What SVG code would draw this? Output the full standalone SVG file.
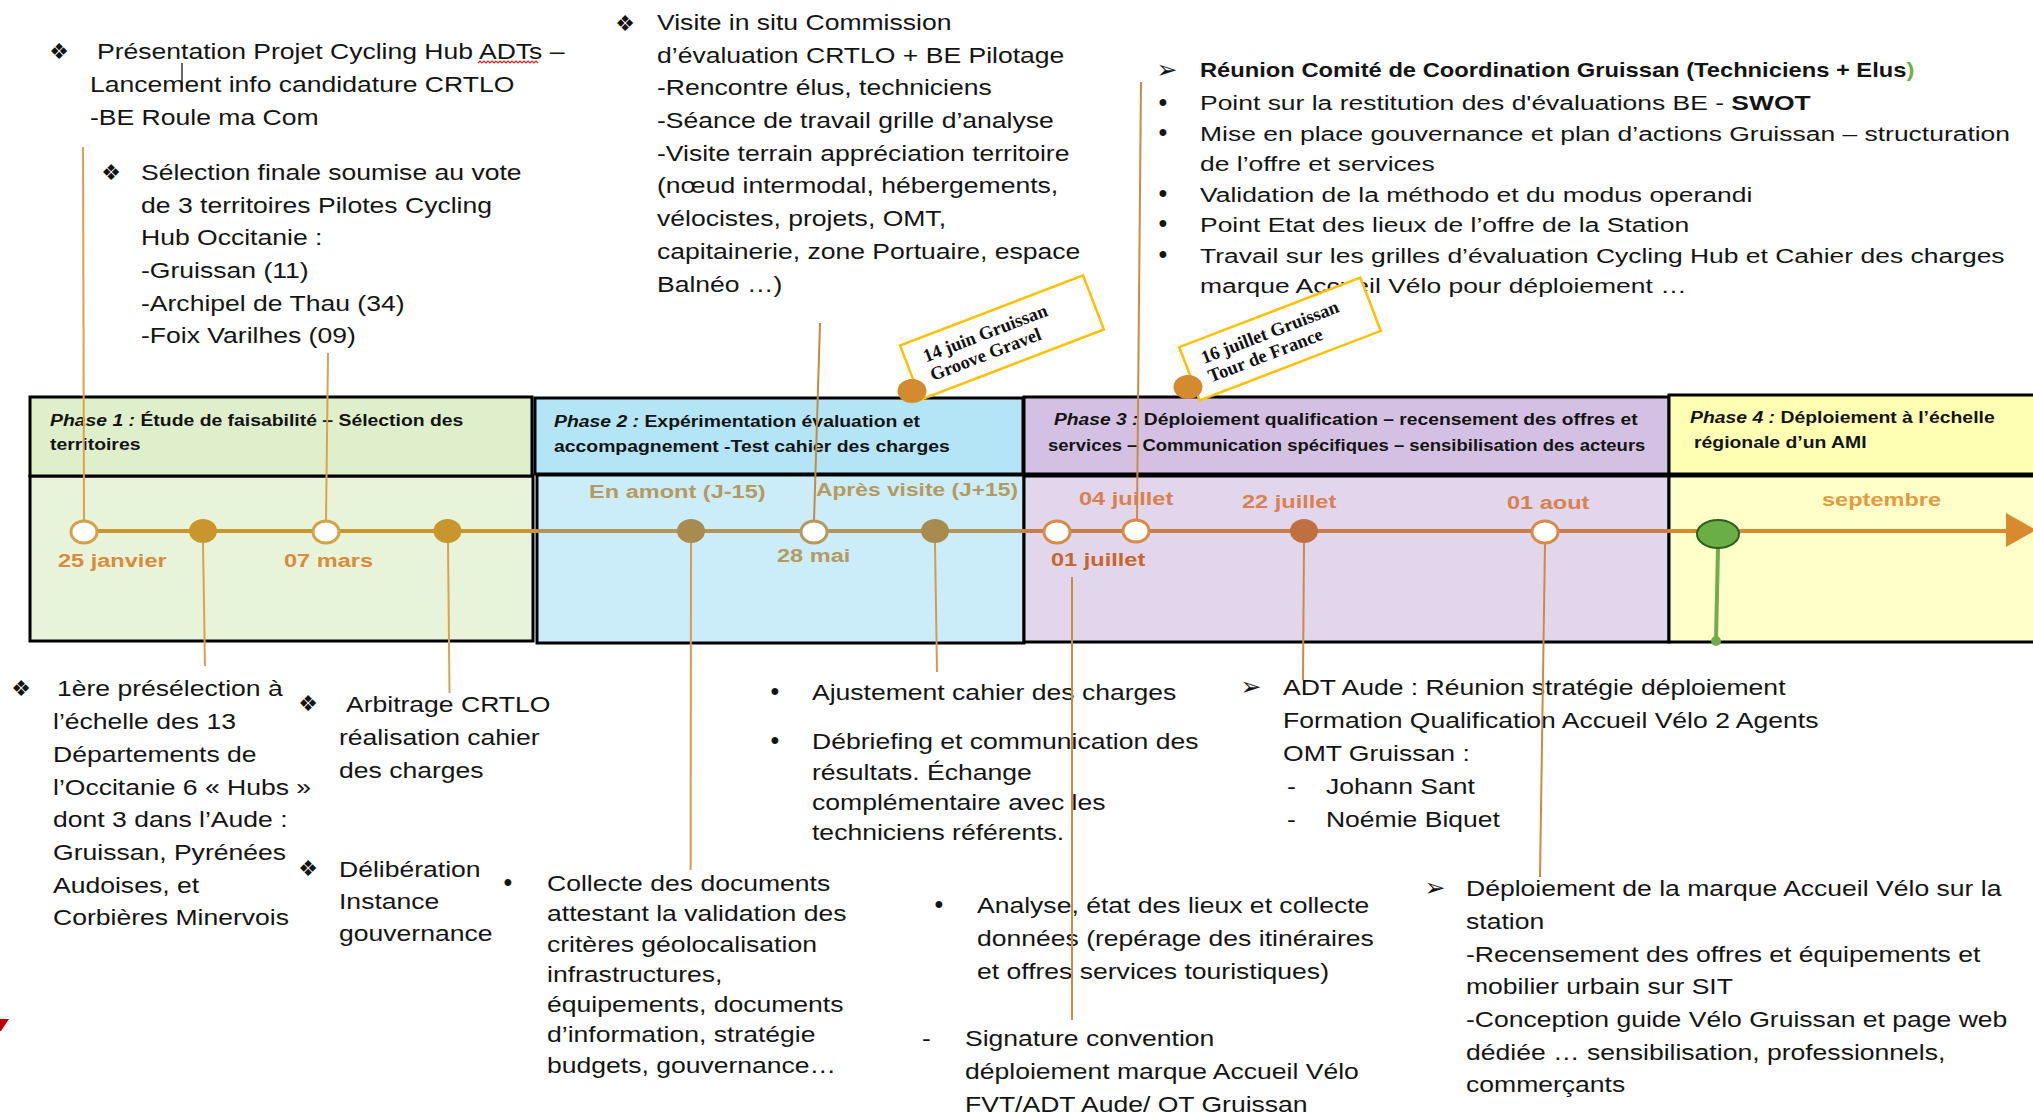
<svg xmlns="http://www.w3.org/2000/svg" width="2033" height="1114" viewBox="0 0 2033 1114">
<style>
.t{font-family:"Liberation Sans",Arial,sans-serif;font-size:22.5px;fill:#141414}
.t2{font-family:"Liberation Sans",Arial,sans-serif;font-size:21px;fill:#141414}
.bb{font-weight:bold}
.h{font-family:"Liberation Sans",Arial,sans-serif;font-size:17px;font-weight:bold;fill:#141414}
.hi{font-style:italic}
.d{font-family:"Liberation Sans",Arial,sans-serif;font-size:19px;font-weight:bold}
.sym{font-family:"DejaVu Sans",sans-serif;font-size:22px;fill:#141414;text-anchor:middle}
.arr{font-family:"DejaVu Sans",sans-serif;font-size:25px;fill:#141414;text-anchor:middle}
.dot{font-family:"Liberation Sans",Arial,sans-serif;font-size:25px;fill:#141414;text-anchor:middle}
.s{font-family:"Liberation Serif","Times New Roman",serif;font-size:18.5px;font-weight:bold;fill:#111}
.box{stroke:#000;stroke-width:3}
.c{fill:none;stroke-width:2}
.ho{fill:#fff;stroke-width:3}
.tag{fill:#fff;stroke:#FFC000;stroke-width:2.5}
</style>
<rect x="0" y="0" width="2033" height="1114" fill="#fff"/>

<!-- Phases -->
<g id="phase1">
<rect class="box" x="30" y="476" width="503" height="165" fill="#E8F4DA"/>
<rect class="box" x="30" y="397" width="502" height="79" fill="#DFEFCC"/>
<g transform="translate(50 0) scale(1.14 1)"><text class="h" x="0" y="426"><tspan class="hi">Phase 1 :</tspan> Étude de faisabilité – Sélection des</text><text class="h" x="0" y="450">territoires</text></g>
</g>
<g id="phase2">
<rect class="box" x="537" y="475" width="487" height="168" fill="#CBEDF9"/>
<rect class="box" x="535" y="398" width="488" height="76" fill="#B3E5F6"/>
<g transform="translate(554 0) scale(1.14 1)"><text class="h" x="0" y="427"><tspan class="hi">Phase 2 :</tspan> Expérimentation évaluation et</text><text class="h" x="0" y="452">accompagnement -Test cahier des charges</text></g>
</g>
<g id="phase3">
<rect class="box" x="1024" y="476" width="645" height="166" fill="#E2D6EC"/>
<rect class="box" x="1024" y="397" width="645" height="77" fill="#D4C0E2"/>
<g transform="translate(1048 0) scale(1.14 1)"><text class="h" x="5.3" y="425" textLength="512" lengthAdjust="spacingAndGlyphs"><tspan class="hi">Phase 3 :</tspan> Déploiement qualification – recensement des offres et</text><text class="h" x="0" y="451" textLength="524" lengthAdjust="spacingAndGlyphs">services – Communication spécifiques – sensibilisation des acteurs</text></g>
</g>
<g id="phase4">
<rect class="box" x="1669" y="476" width="380" height="166" fill="#FFFFC9"/>
<rect class="box" x="1669" y="395" width="380" height="79" fill="#FFFFB3"/>
<g transform="translate(1690 0) scale(1.14 1)"><text class="h" x="0" y="423"><tspan class="hi">Phase 4 :</tspan> Déploiement à l’échelle</text><text class="h" x="3.5" y="448">régionale d’un AMI</text></g>
</g>

<!-- Notes -->
<g id="note-presentation">
<text class="sym" x="59" y="58.5">❖</text>
<g transform="translate(90 0) scale(1.18 1)">
<text class="t" x="5.9" y="59">Présentation Projet Cycling Hub ADTs –</text>
<text class="t" x="0" y="92">Lancement info candidature CRTLO</text>
<text class="t" x="0" y="125">-BE Roule ma Com</text>
</g>
<path d="M478 63 l2 -2 l2 2 l2 -2 l2 2 l2 -2 l2 2 l2 -2 l2 2 l2 -2 l2 2 l2 -2 l2 2 l2 -2 l2 2 l2 -2 l2 2 l2 -2 l2 2 l2 -2 l2 2 l2 -2 l2 2 l2 -2 l2 2 l2 -2 l2 2 l2 -2 l2 2 l2 -2 l2 2" fill="none" stroke="#E02020" stroke-width="1.2"/>
<line x1="182" y1="63" x2="182" y2="90" stroke="#000" stroke-width="1.2"/>
</g>
<g id="note-selection">
<text class="sym" x="111" y="179.5">❖</text>
<g transform="translate(141 0) scale(1.18 1)">
<text class="t" x="0" y="180">Sélection finale soumise au vote</text>
<text class="t" x="0" y="212.7">de 3 territoires Pilotes Cycling</text>
<text class="t" x="0" y="245.4">Hub Occitanie :</text>
<text class="t" x="0" y="278">-Gruissan (11)</text>
<text class="t" x="0" y="310.8">-Archipel de Thau (34)</text>
<text class="t" x="0" y="343.5">-Foix Varilhes (09)</text>
</g>
</g>
<g id="note-visite">
<text class="sym" x="625" y="30.5">❖</text>
<g transform="translate(657 0) scale(1.18 1)">
<text class="t" x="0" y="30">Visite in situ Commission</text>
<text class="t" x="0" y="62.7">d’évaluation CRTLO + BE Pilotage</text>
<text class="t" x="0" y="95.4">-Rencontre élus, techniciens</text>
<text class="t" x="0" y="128.1">-Séance de travail grille d’analyse</text>
<text class="t" x="0" y="160.8">-Visite terrain appréciation territoire</text>
<text class="t" x="0" y="193.5">(nœud intermodal, hébergements,</text>
<text class="t" x="0" y="226.2">vélocistes, projets, OMT,</text>
<text class="t" x="0" y="258.9">capitainerie, zone Portuaire, espace</text>
<text class="t" x="0" y="291.6">Balnéo …)</text>
</g>
</g>
<g id="note-reunion">
<text class="arr" x="1167" y="78">➢</text>
<g transform="translate(1200 0) scale(1.13 1)">
<text class="t2 bb" x="0" y="77">Réunion Comité de Coordination Gruissan (Techniciens + Elus<tspan fill="#70AD47">)</tspan></text>
</g>
<text class="dot" x="1163" y="110.5">•</text>
<text class="dot" x="1163" y="141">•</text>
<text class="dot" x="1163" y="201.7">•</text>
<text class="dot" x="1163" y="231.7">•</text>
<text class="dot" x="1163" y="263.3">•</text>
<g transform="translate(1200 0) scale(1.26 1)">
<text class="t2" x="0" y="110.5">Point sur la restitution des d'évaluations BE - <tspan class="bb">SWOT</tspan></text>
<text class="t2" x="0" y="141">Mise en place gouvernance et plan d’actions Gruissan – structuration</text>
<text class="t2" x="0" y="171.5">de l’offre et services</text>
<text class="t2" x="0" y="201.7">Validation de la méthodo et du modus operandi</text>
<text class="t2" x="0" y="231.7">Point Etat des lieux de l’offre de la Station</text>
<text class="t2" x="0" y="263.3">Travail sur les grilles d’évaluation Cycling Hub et Cahier des charges</text>
<text class="t2" x="0" y="293.3">marque Accueil Vélo pour déploiement …</text>
</g>
</g>
<g id="note-preselection">
<text class="sym" x="21" y="695.5">❖</text>
<g transform="translate(53 0) scale(1.18 1)">
<text class="t" x="3.4" y="696.5">1ère présélection à</text>
<text class="t" x="0" y="729.2">l’échelle des 13</text>
<text class="t" x="0" y="761.9">Départements de</text>
<text class="t" x="0" y="794.6">l’Occitanie 6 « Hubs »</text>
<text class="t" x="0" y="827.3">dont 3 dans l’Aude :</text>
<text class="t" x="0" y="860">Gruissan, Pyrénées</text>
<text class="t" x="0" y="892.7">Audoises, et</text>
<text class="t" x="0" y="925.4">Corbières Minervois</text>
</g>
</g>
<g id="note-arbitrage">
<text class="sym" x="308" y="710.5">❖</text>
<g transform="translate(339 0) scale(1.18 1)">
<text class="t" x="5.9" y="712">Arbitrage CRTLO</text>
<text class="t" x="0" y="745">réalisation cahier</text>
<text class="t" x="0" y="778">des charges</text>
</g>
</g>
<g id="note-deliberation">
<text class="sym" x="308" y="875.5">❖</text>
<g transform="translate(339 0) scale(1.18 1)">
<text class="t" x="0" y="877">Délibération</text>
<text class="t" x="0" y="909">Instance</text>
<text class="t" x="0" y="941">gouvernance</text>
</g>
</g>
<g id="note-collecte">
<text class="dot" x="508" y="891">•</text>
<g transform="translate(547 0) scale(1.18 1)">
<text class="t" x="0" y="891">Collecte des documents</text>
<text class="t" x="0" y="921.3">attestant la validation des</text>
<text class="t" x="0" y="951.6">critères géolocalisation</text>
<text class="t" x="0" y="981.9">infrastructures,</text>
<text class="t" x="0" y="1012.2">équipements, documents</text>
<text class="t" x="0" y="1042.5">d’information, stratégie</text>
<text class="t" x="0" y="1072.8">budgets, gouvernance…</text>
</g>
</g>
<g id="note-ajustement">
<text class="dot" x="775" y="700">•</text>
<text class="dot" x="775" y="749">•</text>
<g transform="translate(812 0) scale(1.18 1)">
<text class="t" x="0" y="700">Ajustement cahier des charges</text>
<text class="t" x="0" y="749">Débriefing et communication des</text>
<text class="t" x="0" y="780">résultats. Échange</text>
<text class="t" x="0" y="810">complémentaire avec les</text>
<text class="t" x="0" y="840">techniciens référents.</text>
</g>
</g>
<g id="note-adt">
<text class="arr" x="1251" y="695">➢</text>
<g transform="translate(1283 0) scale(1.18 1)">
<text class="t" x="0" y="695">ADT Aude : Réunion stratégie déploiement</text>
<text class="t" x="0" y="728">Formation Qualification Accueil Vélo 2 Agents</text>
<text class="t" x="0" y="761">OMT Gruissan :</text>
<text class="t" x="3.4" y="794">-</text><text class="t" x="36.4" y="794">Johann Sant</text>
<text class="t" x="3.4" y="827">-</text><text class="t" x="36.4" y="827">Noémie Biquet</text>
</g>
</g>
<g id="note-analyse">
<text class="dot" x="939" y="913">•</text>
<g transform="translate(977 0) scale(1.18 1)">
<text class="t" x="0" y="913">Analyse, état des lieux et collecte</text>
<text class="t" x="0" y="946">données (repérage des itinéraires</text>
<text class="t" x="0" y="979">et offres services touristiques)</text>
</g>
</g>
<g id="note-signature">
<g transform="translate(922 0) scale(1.18 1)"><text class="t" x="0" y="1046">-</text></g>
<g transform="translate(965 0) scale(1.18 1)">
<text class="t" x="0" y="1046">Signature convention</text>
<text class="t" x="0" y="1079">déploiement marque Accueil Vélo</text>
<text class="t" x="0" y="1112">FVT/ADT Aude/ OT Gruissan</text>
</g>
</g>
<g id="note-deploiement">
<text class="arr" x="1435" y="896">➢</text>
<g transform="translate(1466 0) scale(1.18 1)">
<text class="t" x="0" y="896">Déploiement de la marque Accueil Vélo sur la</text>
<text class="t" x="0" y="929">station</text>
<text class="t" x="0" y="962">-Recensement des offres et équipements et</text>
<text class="t" x="0" y="994">mobilier urbain sur SIT</text>
<text class="t" x="0" y="1027">-Conception guide Vélo Gruissan et page web</text>
<text class="t" x="0" y="1060">dédiée … sensibilisation, professionnels,</text>
<text class="t" x="0" y="1092">commerçants</text>
</g>
</g>
<polygon points="0,1019 9,1019 1,1031 0,1031" fill="#C00000"/>

<!-- Timeline line -->
<g id="timeline">
<line x1="84" y1="531" x2="537" y2="531" stroke="#C9962E" stroke-width="4"/>
<line x1="537" y1="531" x2="1024" y2="531" stroke="#B3955A" stroke-width="4"/>
<line x1="1024" y1="531" x2="1669" y2="531" stroke="#C97E4A" stroke-width="4"/>
<line x1="1669" y1="531" x2="2010" y2="531" stroke="#D98A2E" stroke-width="4"/>
<polygon points="2006,513 2036,530 2006,547" fill="#D98A2E"/>
</g>

<!-- Connectors -->
<g id="connectors">
<line class="c" x1="83" y1="147" x2="84" y2="521" stroke="#D9A24E"/>
<line class="c" x1="328" y1="353" x2="326" y2="521" stroke="#D9A24E"/>
<line class="c" x1="203" y1="543" x2="205" y2="666" stroke="#D9A24E"/>
<line class="c" x1="448" y1="543" x2="449.5" y2="693" stroke="#D9A24E"/>
<line class="c" x1="820" y1="323" x2="814" y2="521" stroke="#C98A3E"/>
<line class="c" x1="691" y1="543" x2="690.6" y2="870" stroke="#DA9A48"/>
<line class="c" x1="935" y1="543" x2="937" y2="672" stroke="#D99A48"/>
<line class="c" x1="1141" y1="82" x2="1137" y2="520" stroke="#D08A3F"/>
<line class="c" x1="1072" y1="577" x2="1072" y2="1020" stroke="#D08A3F"/>
<line class="c" x1="1304" y1="543" x2="1303" y2="680" stroke="#D08A3F"/>
<line class="c" x1="1545" y1="544" x2="1540" y2="877" stroke="#D08A3F"/>
<line x1="1718" y1="548" x2="1716" y2="640" stroke="#70AD47" stroke-width="4"/>
<circle cx="1716" cy="641" r="5" fill="#70AD47"/>
</g>

<!-- Milestones -->
<g id="m-25janvier"><ellipse class="ho" cx="84" cy="532" rx="13" ry="11" stroke="#D4A245"/>
<g transform="translate(58 0) scale(1.24 1)"><text class="d" x="0" y="567" fill="#D98B3A">25 janvier</text></g></g>
<g id="m-p1a"><ellipse cx="203" cy="531" rx="14" ry="12" fill="#C9962E"/></g>
<g id="m-07mars"><ellipse class="ho" cx="326" cy="532" rx="13" ry="11" stroke="#D4A245"/>
<g transform="translate(284 0) scale(1.24 1)"><text class="d" x="0" y="567" fill="#D98B3A">07 mars</text></g></g>
<g id="m-p1b"><ellipse cx="447.5" cy="531" rx="14" ry="12" fill="#C9962E"/></g>
<g id="m-amont"><ellipse cx="691" cy="531" rx="14" ry="12" fill="#A88B4F"/>
<g transform="translate(589 0) scale(1.24 1)"><text class="d" x="0" y="498" fill="#B59A5F">En amont (J-15)</text></g></g>
<g id="m-28mai"><ellipse class="ho" cx="814" cy="532" rx="13" ry="11" stroke="#B8985C"/>
<g transform="translate(777 0) scale(1.24 1)"><text class="d" x="0" y="562" fill="#B59A5F">28 mai</text></g></g>
<g id="m-apres"><ellipse cx="935" cy="531" rx="14" ry="12" fill="#A88B4F"/>
<g transform="translate(816 0) scale(1.2 1)"><text class="d" x="0" y="496" fill="#B59A5F">Après visite (J+15)</text></g></g>
<g id="m-01juillet"><ellipse class="ho" cx="1057" cy="532" rx="13" ry="11" stroke="#D98A45"/>
<g transform="translate(1051 0) scale(1.24 1)"><text class="d" x="0" y="566" fill="#C8652A">01 juillet</text></g></g>
<g id="m-04juillet"><ellipse class="ho" cx="1136" cy="531" rx="13" ry="11" stroke="#D98A45"/>
<g transform="translate(1079 0) scale(1.24 1)"><text class="d" x="0" y="505" fill="#D9804F">04 juillet</text></g></g>
<g id="m-22juillet"><ellipse cx="1304" cy="531" rx="14" ry="12" fill="#C07040"/>
<g transform="translate(1242 0) scale(1.24 1)"><text class="d" x="0" y="508" fill="#D9804F">22 juillet</text></g></g>
<g id="m-01aout"><ellipse class="ho" cx="1545" cy="532" rx="13" ry="11" stroke="#D98A45"/>
<g transform="translate(1507 0) scale(1.24 1)"><text class="d" x="0" y="509" fill="#D9804F">01 aout</text></g></g>
<g id="m-septembre"><ellipse cx="1718" cy="534" rx="21" ry="14" fill="#6AAF46" stroke="#2D5E1E" stroke-width="2"/>
<g transform="translate(1822 0) scale(1.24 1)"><text class="d" x="0" y="506" fill="#E39A42">septembre</text></g></g>

<!-- Event tags -->
<g id="event-groove-gravel">
<g transform="translate(1002 337.5) rotate(-21)">
<rect class="tag" x="-98" y="-29" width="196" height="58"/>
<text class="s" x="-80" y="-4">14 juin Gruissan</text>
<text class="s" x="-80" y="16">Groove Gravel</text>
</g>
<ellipse cx="912" cy="391" rx="14.5" ry="12" fill="#D48A2E"/>
</g>
<g id="event-tour-de-france">
<g transform="translate(1280 339) rotate(-21)">
<rect class="tag" x="-97" y="-28.5" width="194" height="57"/>
<text class="s" x="-80" y="-4">16 juillet Gruissan</text>
<text class="s" x="-80" y="16">Tour de France</text>
</g>
<ellipse cx="1188" cy="387" rx="14.5" ry="12" fill="#D48A2E"/>
</g>
</svg>
